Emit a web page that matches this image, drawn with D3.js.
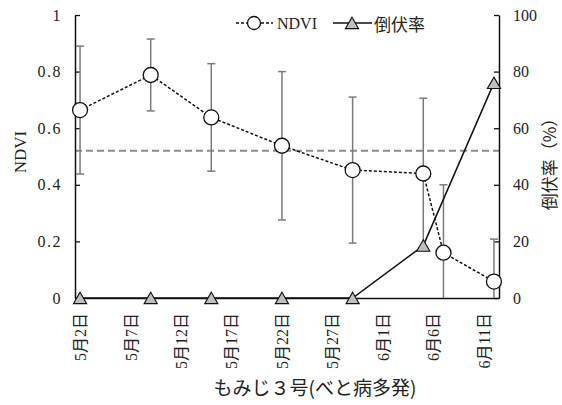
<!DOCTYPE html>
<html>
<head>
<meta charset="utf-8">
<script src="https://cdn.jsdelivr.net/npm/d3@7"></script>
<style>
  html, body { margin: 0; padding: 0; background: #fff; }
  svg { display: block; }
  text { fill: #222; }
</style>
</head>
<body>
<svg id="chart" width="562" height="405"></svg>
<script>
// NDVI observations (mean ± SD) and lodging rate, もみじ３号
const ndviDates = ["5/2", "5/9", "5/15", "5/22", "5/29", "6/5", "6/7", "6/12"];
const ndviMean  = [0.664, 0.788, 0.638, 0.538, 0.452, 0.440, 0.160, 0.058];
const ndviSd    = [0.226, 0.127, 0.190, 0.262, 0.258, 0.266, 0.240, 0.150];

const lodgingDates = ["5/2", "5/9", "5/15", "5/22", "5/29", "6/5", "6/12"];
const lodgingRate  = [0, 0, 0, 0, 0, 18.5, 76];

const ndviThreshold = 0.52;

const xLabelDates = ["5/2", "5/7", "5/12", "5/17", "5/22", "5/27", "6/1", "6/6", "6/11"];
const ndviTicks = [0, 0.2, 0.4, 0.6, 0.8, 1];
const rateTicks = [0, 20, 40, 60, 80, 100];

const YEAR = 2019;
const parse = s => { const [m, d] = s.split("/").map(Number); return new Date(YEAR, m - 1, d); };
const halfDay = 12 * 3600 * 1000;

const svg = d3.select("#chart");
const L = 75, R = 499, T = 15, B = 298;

// one slot per day, points sit in the middle of their day
const x = d3.scaleTime()
  .domain([new Date(parse("5/2") - halfDay), new Date(+parse("6/12") + halfDay)])
  .range([L, R]);
const yL = d3.scaleLinear().domain([0, 1]).range([B, T]);
const yR = d3.scaleLinear().domain([0, 100]).range([B, T]);

const serif = "'Liberation Serif', 'Noto Sans CJK JP', serif";
const cjk = "'Liberation Serif', 'Noto Sans CJK JP', sans-serif";

// NDVI threshold reference line
svg.append("line")
  .attr("x1", L).attr("x2", R)
  .attr("y1", yL(ndviThreshold)).attr("y2", yL(ndviThreshold))
  .attr("stroke", "#8c8c8c").attr("stroke-width", 2)
  .attr("stroke-dasharray", "7,4");

// axes
const axL = svg.append("g").attr("transform", `translate(${L},0)`)
  .call(d3.axisLeft(yL).tickValues(ndviTicks).tickSize(-5).tickSizeOuter(0).tickPadding(13)
    .tickFormat(d => d === 0 ? "0" : d === 1 ? "1" : d.toFixed(1)));
const axR = svg.append("g").attr("transform", `translate(${R},0)`)
  .call(d3.axisRight(yR).tickValues(rateTicks).tickSize(-5).tickSizeOuter(0).tickPadding(14));
const axB = svg.append("g").attr("transform", `translate(0,${B})`)
  .call(d3.axisBottom(x).tickValues(xLabelDates.map(parse)).tickSize(0).tickSizeOuter(0)
    .tickFormat(d => `${d.getMonth() + 1}月${d.getDate()}日`));

[axL, axR, axB].forEach(g => {
  g.select(".domain").attr("stroke", "#111").attr("stroke-width", 1.5);
  g.selectAll(".tick line").attr("stroke", "#111").attr("stroke-width", 1.3);
  g.selectAll(".tick text").attr("fill", "#222");
});
axL.selectAll(".tick text").style("font-family", serif).style("font-size", "16px").style("letter-spacing", "1.5px");
axR.selectAll(".tick text").style("font-family", serif).style("font-size", "16px");
axB.selectAll(".tick text")
  .style("font-family", cjk).style("font-size", "16px")
  .attr("transform", "rotate(-90)")
  .attr("text-anchor", "end")
  .attr("dominant-baseline", "central")
  .attr("x", -15).attr("y", 0).attr("dy", null);

// NDVI error bars
const ndvi = ndviDates.map((d, i) => ({ date: parse(d), v: ndviMean[i], e: ndviSd[i] }));
const eb = svg.append("g").attr("stroke", "#7a7a7a").attr("stroke-width", 1.5);
ndvi.forEach(p => {
  const cx = x(p.date);
  const hi = Math.min(1, p.v + p.e), lo = Math.max(0, p.v - p.e);
  eb.append("line").attr("x1", cx).attr("x2", cx).attr("y1", yL(hi)).attr("y2", yL(lo));
  if (p.v + p.e <= 1) eb.append("line").attr("x1", cx - 4).attr("x2", cx + 4).attr("y1", yL(hi)).attr("y2", yL(hi));
  if (p.v - p.e >= 0) eb.append("line").attr("x1", cx - 4).attr("x2", cx + 4).attr("y1", yL(lo)).attr("y2", yL(lo));
});

// NDVI line and markers
svg.append("path").datum(ndvi)
  .attr("fill", "none").attr("stroke", "#111").attr("stroke-width", 1.5)
  .attr("stroke-dasharray", "3,2")
  .attr("d", d3.line().x(p => x(p.date)).y(p => yL(p.v)));

// lodging rate line and markers
const lodging = lodgingDates.map((d, i) => ({ date: parse(d), v: lodgingRate[i] }));
svg.append("path").datum(lodging)
  .attr("fill", "none").attr("stroke", "#111").attr("stroke-width", 1.5)
  .attr("d", d3.line().x(p => x(p.date)).y(p => yR(p.v)));

svg.append("g").selectAll("circle").data(ndvi).join("circle")
  .attr("cx", p => x(p.date)).attr("cy", p => yL(p.v)).attr("r", 7.5)
  .attr("fill", "#fff").attr("stroke", "#111").attr("stroke-width", 1.3);

const tri = "M0,-5.8L6.6,5.6L-6.6,5.6Z";
svg.append("g").selectAll("path").data(lodging).join("path")
  .attr("d", tri)
  .attr("transform", p => `translate(${x(p.date)},${yR(p.v)})`)
  .attr("fill", "#bfbfbf").attr("stroke", "#111").attr("stroke-width", 1.1);

// axis titles
svg.append("text")
  .attr("transform", "translate(20,152) rotate(-90)")
  .attr("text-anchor", "middle").attr("dominant-baseline", "central")
  .style("font-family", serif).style("font-size", "17px")
  .text("NDVI");
svg.append("text")
  .attr("transform", "translate(548,160) rotate(-90)")
  .attr("text-anchor", "middle").attr("dominant-baseline", "central")
  .style("font-family", "'Noto Sans CJK JP', sans-serif").style("font-size", "17px")
  .text("倒伏率（%）");
svg.append("text")
  .attr("x", 315).attr("y", 386)
  .attr("text-anchor", "middle").attr("dominant-baseline", "central")
  .style("font-family", "'Noto Sans CJK JP', sans-serif").style("font-size", "19px")
  .text("もみじ３号(べと病多発)");

// legend
const lg = svg.append("g");
const ly = 23;
lg.append("line").attr("x1", 236).attr("x2", 273).attr("y1", ly).attr("y2", ly)
  .attr("stroke", "#111").attr("stroke-width", 1.5).attr("stroke-dasharray", "3,2");
lg.append("circle").attr("cx", 254).attr("cy", ly).attr("r", 6.5)
  .attr("fill", "#fff").attr("stroke", "#111").attr("stroke-width", 1.3);
lg.append("text").attr("x", 277).attr("y", ly).attr("dominant-baseline", "central")
  .style("font-family", serif).style("font-size", "16px").text("NDVI");
lg.append("line").attr("x1", 333).attr("x2", 372).attr("y1", ly).attr("y2", ly)
  .attr("stroke", "#111").attr("stroke-width", 1.5);
lg.append("path").attr("d", tri).attr("transform", `translate(352,${ly})`)
  .attr("fill", "#bfbfbf").attr("stroke", "#111").attr("stroke-width", 1.1);
lg.append("text").attr("x", 374).attr("y", ly).attr("dominant-baseline", "central")
  .style("font-family", "'Noto Sans CJK JP', sans-serif").style("font-size", "17px").text("倒伏率");
</script>
</body>
</html>
